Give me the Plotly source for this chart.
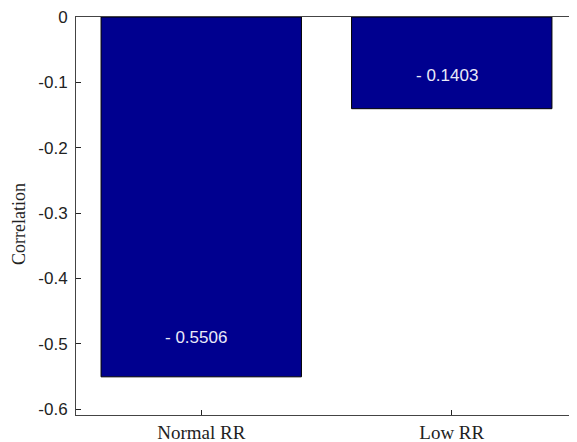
import plotly.graph_objects as go

categories = ["Normal RR", "Low RR"]
values = [-0.5506, -0.1403]
value_labels = ["- 0.5506", "- 0.1403"]
y_ticks = [0, -0.1, -0.2, -0.3, -0.4, -0.5, -0.6]
y_tick_labels = ["0", "-0.1", "-0.2", "-0.3", "-0.4", "-0.5", "-0.6"]

x_pos = [1, 2]

fig = go.Figure()
fig.add_trace(go.Bar(
    x=x_pos, y=values, width=0.8,
    marker=dict(color="#00008F", line=dict(color="black", width=1)),
    hoverinfo="skip",
))

label_shift = [39, 33]
for xp, v, lab, sh in zip(x_pos, values, value_labels, label_shift):
    fig.add_annotation(x=xp, y=v, text=lab, showarrow=False, yshift=sh,
                       xshift=-5,
                       font=dict(family="Liberation Sans", size=17, color="#EAEAF8"))

fig.add_annotation(xref="paper", yref="paper", x=0, y=0.48, xshift=-57,
                   xanchor="center", yanchor="middle",
                   text="Correlation", textangle=-90, showarrow=False,
                   font=dict(family="Liberation Serif", size=18, color="#222"))

# page body has an 8px margin, so the figure is sized to fit the window
fig.update_layout(
    width=569, height=434,
    margin=dict(l=68, r=0, t=9, b=27, autoexpand=False),
    plot_bgcolor="white", paper_bgcolor="white",
    showlegend=False, bargap=0.2,
)
fig.update_xaxes(
    range=[0.5, 2.5], tickvals=x_pos, ticktext=categories,
    ticks="inside", ticklen=5, tickcolor="#222",
    showline=True, linecolor="#444", linewidth=1, mirror=True,
    showgrid=False, zeroline=False, automargin=False,
    tickfont=dict(family="Liberation Serif", size=19, color="#222"),
)
fig.update_yaxes(
    range=[-0.609, 0], tickvals=y_ticks, ticktext=y_tick_labels,
    ticks="inside", ticklen=5, tickcolor="#222",
    showline=True, linecolor="#444", linewidth=1, mirror="ticks",
    showgrid=False, zeroline=False, ticklabelstandoff=4, automargin=False,
    ticklabeloverflow="allow",
    tickfont=dict(family="Liberation Sans", size=17, color="#222"),
)

fig.write_html("out.html")
